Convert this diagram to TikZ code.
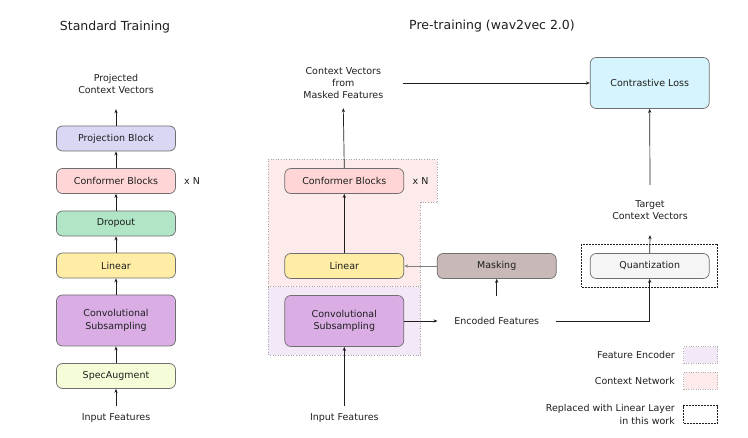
\documentclass[tikz,border=0pt]{standalone}
\usepackage{fontspec}
\setmainfont{DejaVu Sans}
\usepackage{xcolor}
\definecolor{edge}{RGB}{110,110,110}
\definecolor{inkcol}{RGB}{30,30,30}
\definecolor{projcol}{RGB}{216,216,245}
\definecolor{confcol}{RGB}{255,213,213}
\definecolor{dropcol}{RGB}{176,230,198}
\definecolor{lincol}{RGB}{255,237,166}
\definecolor{convcol}{RGB}{218,174,229}
\definecolor{speccol}{RGB}{244,252,216}
\definecolor{maskcol}{RGB}{200,184,184}
\definecolor{losscol}{RGB}{213,244,253}
\definecolor{quantcol}{RGB}{245,245,245}
\definecolor{ctxcol}{RGB}{253,234,234}
\definecolor{enccol}{RGB}{243,233,246}
\usepackage{tikz}
\usetikzlibrary{positioning, arrows.meta}
\tikzstyle{box} = [
    rectangle, rounded corners=6pt,
    align=center,
    minimum width=119pt,
    minimum height=25pt,
    draw=edge, line width=0.7pt,
]
\tikzstyle{txtbox} = [
    align=center, inner sep=0pt,
    minimum width=119pt,
    minimum height=50pt,
]
\tikzstyle{title} = [
    font=\fontsize{12.5}{15}\selectfont,
]
\tikzstyle{swatch} = [
    rectangle,
    minimum width=34pt,
    minimum height=16.6pt,
    draw=gray!60, dotted,
]
\tikzstyle{fineline} = [draw=inkcol, dash pattern=on 2pt off 1pt, line width=0.6pt]
\tikzstyle{region} = [draw=gray!70, dotted, line width=0.6pt]
\tikzstyle{arrow} = [-{Stealth[length=4pt,width=3.2pt]}, line width=0.7pt, draw=inkcol]

\begin{document}
\begin{tikzpicture}[x=1pt, y=-1pt, font=\fontsize{9.5}{12.4}\selectfont, text=inkcol]
    \useasboundingbox (0,0) rectangle (748,438);

    % regions
    \fill [ctxcol] (268,159.3) -- (437.3,159.3) -- (437.3,202.3) -- (420.7,202.3)
        -- (420.7,286.7) -- (268,286.7) -- cycle;
    \draw [region] (268,286.7) -- (268,159.3) -- (437.3,159.3) -- (437.3,202.3)
        -- (420.7,202.3) -- (420.7,286.7);
    \fill [enccol] (268,286.7) rectangle (420.7,355);
    \draw [region] (268,286.7) rectangle (420.7,355);

    % titles
    \node (stdtitle) at (115, 27) [title] {Standard Training};
    \node (pretitle) at (492, 26) [title] {Pre-training (wav2vec 2.0)};

    % standard training
    \node (projected) at (116, 84) [txtbox] {Projected\\Context Vectors};
    \node (proj) at (116, 138.5) [box, fill=projcol] {Projection Block};
    \node (conf) at (116, 181) [box, fill=confcol] {Conformer Blocks};
    \node (drop) at (116, 223.5) [box, fill=dropcol] {Dropout};
    \node (lin) at (116, 265.5) [box, fill=lincol] {Linear};
    \node (conv) at (116, 320.5) [box, fill=convcol, minimum height=51pt] {Convolutional\\Subsampling};
    \node (spec) at (116, 376) [box, fill=speccol] {SpecAugment};
    \node (input) at (116, 418) [txtbox, minimum height=24pt] {Input Features};
    \node (times) at (192, 181) {x N};

    % pre-training
    \node (ctxvec) at (343.3, 83) [txtbox] {Context Vectors\\from\\Masked Features};
    \node (mconf) at (344.3, 181) [box, fill=confcol] {Conformer Blocks};
    \node (mtimes) at (420.5, 181) {x N};
    \node (mlin) at (344.3, 266) [box, fill=lincol] {Linear};
    \node (mconv) at (344.3, 321) [box, fill=convcol, minimum height=51pt] {Convolutional\\Subsampling};
    \node (minput) at (344.3, 418) [txtbox, minimum height=24pt] {Input Features};
    \node (mask) at (496.7, 266) [box, fill=maskcol] {Masking};
    \node (encoded) at (496.7, 321) [txtbox, minimum width=118pt] {Encoded Features};
    \node (loss) at (649.7, 83) [box, fill=losscol, minimum height=51pt] {Contrastive Loss};
    \node (target) at (650, 210) [txtbox] {Target\\Context Vectors};
    \node (quant) at (649.7, 266) [box, fill=quantcol] {Quantization};
    \node (qframe) at (649.7, 265.8) [fineline, minimum width=136pt, minimum height=43pt] {};

    % legend
    \node (encswatch) at (700.5, 355) [swatch, fill=enccol] {};
    \node (enclabel) [left=4.9pt of encswatch] {Feature Encoder};
    \node (ctxswatch) at (700.5, 380.7) [swatch, fill=ctxcol] {};
    \node (ctxlabel) [left=4.9pt of ctxswatch] {Context Network};
    \node (repswatch) at (700.5, 414.5) [swatch, fineline, minimum height=17.6pt] {};
    \node (replabel) [left=4.9pt of repswatch, align=right] {Replaced with Linear Layer\\in this work};

    % arrows
    \foreach \a/\b in {input/spec, spec/conv, conv/lin, lin/drop, drop/conf, conf/proj, proj/projected,
        minput/mconv, encoded/mask, mlin/mconf, mconf/ctxvec, quant/target, target/loss} {
        \draw [arrow] (\a.north) to (\b.south);
    }
    \draw [arrow] (mconv.east) to (encoded.west);
    \draw [arrow, draw=gray] (mask.west) to (mlin.east);
    \draw [arrow] (ctxvec.east) to (loss.west);
    \draw [arrow] (encoded.east) -| (quant.south);

\end{tikzpicture}
\end{document}
